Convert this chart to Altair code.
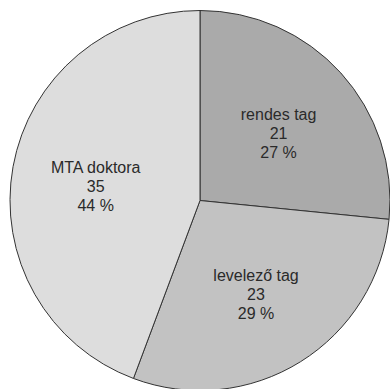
import altair as alt
import pandas as pd

categories = ["rendes tag", "levelező tag", "MTA doktora"]
values = [21, 23, 35]
percents = ["27 %", "29 %", "44 %"]
colors = ["#aaaaaa", "#c2c2c2", "#dddddd"]

df = pd.DataFrame({
    "cat": categories,
    "val": values,
    "pct": percents,
    "ord": list(range(len(categories))),
})
df["label"] = [[c, str(v), p] for c, v, p in zip(categories, values, percents)]

base = alt.Chart(df).encode(
    theta=alt.Theta("val:Q", stack=True),
    order=alt.Order("ord:Q"),
)

pie = base.mark_arc(radius=190, stroke="#333333", strokeWidth=1).encode(
    color=alt.Color("cat:N", scale=alt.Scale(domain=categories, range=colors), legend=None)
)

text = base.mark_text(
    radius=106, dy=-14, fontSize=16, font="Liberation Sans", color="#2a2a2a",
    lineHeight=19, align="center", baseline="middle",
).encode(text="label")

chart = (pie + text).properties(
    width=380, height=377,
    padding={"left": 10, "top": 12, "right": 0, "bottom": 0},
    autosize=alt.AutoSizeParams(type="none"),
).configure_view(stroke=None).configure(background="white")

chart.save("out.html", embed_options={"renderer": "svg", "actions": False})
